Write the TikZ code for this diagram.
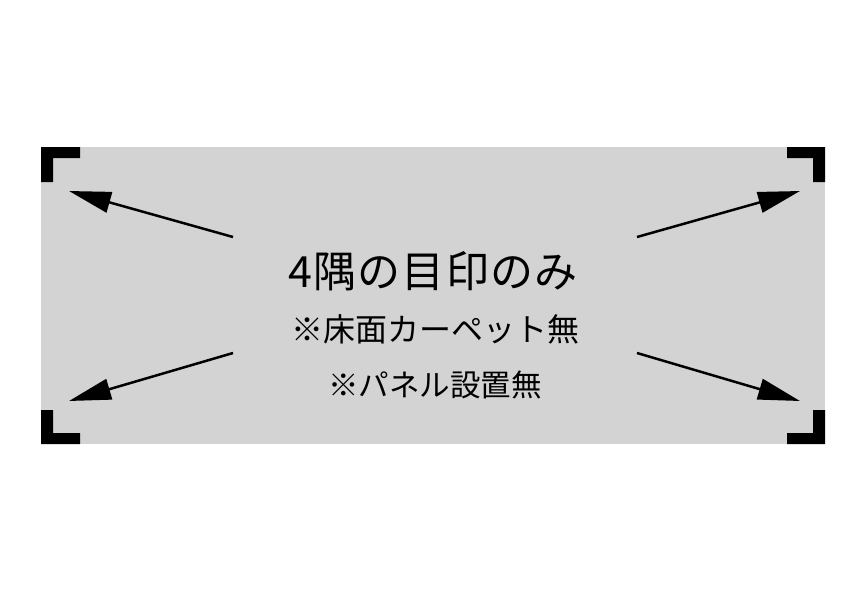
\documentclass[tikz,border=0pt]{standalone}
\usepackage{fontspec}
\setmainfont{Noto Sans CJK JP}
\usetikzlibrary{arrows.meta}
\definecolor{panelgray}{RGB}{211,211,211}

\begin{document}
\begin{tikzpicture}[x=1pt, y=-1pt]
      \useasboundingbox (0,0) rectangle (866,592);
      \fill[panelgray] (41,147) rectangle (825,444);

      % corner marks
      \fill[black] (41,147) -- (80,147) -- (80,158) -- (53,158) -- (53,182) -- (41,182) -- cycle;
      \fill[black] (825,147) -- (787,147) -- (787,158) -- (813,158) -- (813,182) -- (825,182) -- cycle;
      \fill[black] (41,444) -- (80,444) -- (80,433) -- (53,433) -- (53,410) -- (41,410) -- cycle;
      \fill[black] (825,444) -- (787,444) -- (787,433) -- (813,433) -- (813,410) -- (825,410) -- cycle;

      {\tikzstyle{every node}=[inner sep=0pt, anchor=center]
        \node (l1) at (433, 271) {\fontsize{43}{43}\selectfont\addfontfeature{LetterSpace=3}4隅の目印のみ};
        \node (l2) at (435, 329) {\fontsize{32}{32}\selectfont ※床面カーペット無};
        \node (l3) at (435, 385) {\fontsize{30.5}{30.5}\selectfont ※パネル設置無};
      }

      \coordinate (t1) at (233, 237);
      \coordinate (t2) at (637, 237);
      \coordinate (t3) at (233, 353);
      \coordinate (t4) at (637, 353);
      \coordinate (m1) at (69, 191);
      \coordinate (m2) at (800, 191);
      \coordinate (m3) at (69, 401);
      \coordinate (m4) at (800, 401);

      \foreach \i in {1, ..., 4}
      {
        \draw [line width=2.5pt, -{Triangle[length=42pt, width=21pt]}] (t\i) -- (m\i);
      }
    \end{tikzpicture}
\end{document}
